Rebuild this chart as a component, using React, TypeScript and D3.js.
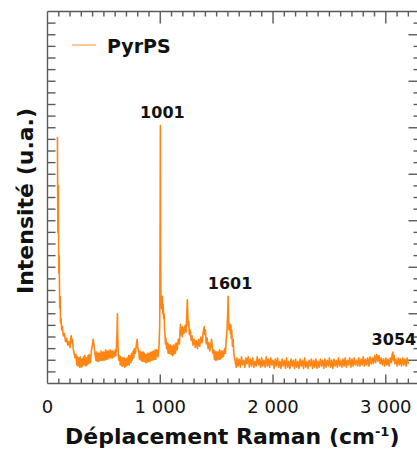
import React, { useEffect, useRef } from 'react';
import * as d3 from 'd3';

// Raman spectrum of PyrPS: [shift cm-1, intensity a.u.]
const lowRegion: [number, number][] = [
  [88, 21.2], [92, 13.0], [96, 17.0], [100, 9.5], [104, 11.0], [108, 6.5], [112, 7.5], [116, 5.2],
  [120, 5.6], [126, 4.6], [132, 4.9], [140, 4.1], [150, 4.3], [160, 3.6], [170, 3.9], [180, 3.3],
  [190, 3.6], [200, 3.1], [205, 3.9], [210, 4.1], [215, 3.5], [220, 3.8], [228, 3.0], [236, 2.6],
  [244, 2.2], [252, 2.5], [260, 1.6], [265, 2.3], [270, 1.5], [280, 2.2], [285, 1.4], [290, 2.3],
  [300, 1.4], [305, 2.1], [310, 1.5], [320, 2.3], [325, 1.6], [330, 2.4], [340, 1.5], [345, 2.2],
  [350, 1.6], [360, 2.4], [365, 1.7], [370, 2.5], [380, 1.8], [390, 2.9], [400, 3.4], [405, 3.8],
  [410, 3.5], [415, 3.0], [420, 2.6], [430, 2.0], [435, 2.7], [440, 1.9], [450, 2.6], [455, 1.9],
  [460, 2.6], [470, 2.0], [475, 2.8], [480, 2.0], [490, 2.7], [495, 2.0], [500, 2.7], [510, 2.0],
  [515, 2.9], [520, 2.1], [530, 2.8], [535, 2.1], [540, 2.8], [550, 2.2], [555, 2.9], [560, 2.2],
  [570, 2.8], [575, 2.2], [580, 2.8], [590, 2.3], [600, 2.9], [605, 2.4],
  [612, 3.2], [617, 4.5], [620, 6.0], [623, 4.0], [627, 2.8], [632, 2.0],
  [640, 2.4], [645, 1.6], [650, 2.3], [660, 1.5], [665, 2.2], [670, 1.5], [680, 2.2], [685, 1.4],
  [690, 2.1], [700, 1.5], [705, 2.2], [710, 1.6], [720, 2.4], [725, 1.6], [730, 2.4], [740, 1.8],
  [745, 2.6], [750, 2.0], [760, 2.8], [765, 2.2], [770, 3.0], [780, 2.6], [790, 3.5],
  [795, 3.8], [800, 3.1], [810, 2.7], [815, 2.1], [820, 2.8], [830, 2.0], [835, 2.7], [840, 1.9],
  [850, 2.7], [855, 1.9], [860, 2.6], [870, 1.8], [875, 2.5], [880, 1.8], [890, 2.6], [895, 1.9],
  [900, 2.6], [910, 1.9], [915, 2.7], [920, 2.0], [930, 2.7], [935, 2.0], [940, 2.8], [950, 2.1],
  [955, 2.9], [960, 2.1], [970, 2.9], [980, 2.3], [990, 3.4], [995, 5.0], [999, 14.0], [1001, 22.2],
  [1003, 12.0],
];

const fingerprint: [number, number][] = [
  [1006, 6.5], [1010, 7.2], [1014, 6.4], [1018, 7.5], [1022, 6.0], [1026, 6.8], [1030, 5.6], [1034, 6.0],
  [1038, 4.6], [1042, 4.2], [1046, 3.4], [1050, 3.9], [1056, 3.0], [1062, 3.5], [1070, 2.6], [1075, 3.4],
  [1080, 2.6], [1090, 3.3], [1095, 2.5], [1100, 3.2], [1110, 2.4], [1115, 3.3], [1120, 2.5], [1130, 3.3],
  [1135, 2.6], [1140, 3.5], [1150, 2.9], [1160, 3.8], [1170, 3.4], [1175, 4.6], [1180, 5.1], [1185, 4.2],
  [1190, 4.8], [1195, 4.0], [1200, 4.9], [1210, 4.3], [1220, 5.0], [1228, 4.4], [1234, 5.6], [1240, 7.2],
  [1244, 6.0], [1248, 5.0], [1252, 5.3], [1258, 4.2], [1266, 4.6], [1274, 3.7], [1282, 4.1], [1290, 3.3],
  [1300, 3.8], [1310, 3.1], [1320, 3.7], [1330, 3.0], [1340, 3.8], [1350, 3.2], [1360, 4.0], [1370, 3.5],
  [1380, 4.4], [1390, 4.9], [1395, 4.2], [1400, 4.6], [1408, 3.4], [1416, 3.9], [1424, 3.0], [1432, 3.5],
  [1440, 2.8], [1448, 3.3], [1455, 3.8], [1460, 3.3], [1465, 2.6], [1472, 2.9], [1480, 2.1], [1485, 2.8],
  [1490, 2.0], [1500, 2.7], [1505, 2.0], [1510, 2.7], [1520, 2.1], [1525, 2.9], [1530, 2.1], [1540, 2.8],
  [1545, 2.2], [1550, 2.8], [1560, 2.3], [1570, 3.0], [1578, 2.6], [1585, 3.8], [1592, 4.6], [1598, 6.0],
  [1602, 7.5], [1606, 5.6], [1610, 4.6], [1614, 5.0], [1618, 5.1], [1622, 4.3], [1626, 5.0], [1630, 3.9],
  [1634, 4.6], [1640, 3.2], [1646, 3.8], [1652, 2.6], [1658, 2.2], [1666, 1.8], [1674, 1.4],
];

const highRegion: [number, number][] = [
  [1680, 2.2], [1690, 1.5], [1700, 2.1], [1710, 1.4], [1720, 2.3], [1730, 1.6], [1740, 2.0], [1750, 1.4],
  [1760, 2.2], [1770, 1.7], [1780, 2.3], [1790, 1.4], [1800, 2.1], [1810, 1.5], [1820, 2.2], [1830, 1.4],
  [1840, 1.9], [1850, 1.5], [1860, 2.3], [1870, 1.6], [1880, 2.1], [1890, 1.4], [1900, 2.2], [1910, 1.5],
  [1920, 2.0], [1930, 1.4], [1940, 2.3], [1950, 1.5], [1960, 2.1], [1970, 1.4], [1980, 2.2], [1990, 1.6],
  [2000, 2.0], [2010, 1.3], [2020, 2.1], [2030, 1.5], [2040, 2.2], [2050, 1.4], [2060, 1.9], [2070, 1.3],
  [2080, 2.1], [2090, 1.5], [2100, 2.0], [2110, 1.3], [2120, 2.2], [2130, 1.4], [2140, 1.9], [2150, 1.3],
  [2160, 2.1], [2170, 1.5], [2180, 2.0], [2190, 1.3], [2200, 2.1], [2210, 1.4], [2220, 1.9], [2230, 1.3],
  [2240, 2.1], [2250, 1.5], [2260, 2.0], [2270, 1.3], [2280, 2.2], [2290, 1.4], [2300, 1.9], [2310, 1.3],
  [2320, 2.0], [2330, 1.5], [2340, 2.1], [2350, 1.3], [2360, 2.0], [2370, 1.4], [2380, 2.1], [2390, 1.3],
  [2400, 1.9], [2410, 1.4], [2420, 2.1], [2430, 1.5], [2440, 2.0], [2450, 1.3], [2460, 2.1], [2470, 1.4],
  [2480, 2.0], [2490, 1.5], [2500, 2.2], [2510, 1.4], [2520, 2.0], [2530, 1.3], [2540, 2.1], [2550, 1.5],
  [2560, 2.0], [2570, 1.4], [2580, 2.2], [2590, 1.5], [2600, 2.0], [2610, 1.4], [2620, 2.1], [2630, 1.5],
  [2640, 2.2], [2650, 1.4], [2660, 2.0], [2670, 1.6], [2680, 2.2], [2690, 1.4], [2700, 2.1], [2710, 1.5],
  [2720, 2.2], [2730, 1.6], [2740, 2.0], [2750, 1.5], [2760, 2.2], [2770, 1.5], [2780, 2.1], [2790, 1.6],
  [2800, 2.3], [2810, 1.5], [2820, 2.1], [2830, 1.6], [2840, 2.2], [2850, 1.5], [2860, 2.3], [2870, 1.7],
  [2880, 2.2], [2890, 1.7], [2900, 2.4], [2910, 1.8], [2920, 2.5], [2930, 1.9], [2940, 2.4], [2950, 1.7],
  [2960, 2.2], [2970, 1.6], [2980, 2.1], [2990, 1.5], [3000, 2.2], [3010, 1.6], [3020, 2.1], [3030, 1.5],
  [3040, 2.2], [3050, 1.8], [3056, 2.5], [3062, 2.7], [3068, 2.0], [3074, 2.4], [3080, 1.7], [3090, 2.1],
  [3100, 1.5], [3110, 2.2], [3120, 1.6], [3130, 2.1], [3140, 1.5], [3150, 2.2], [3160, 1.6], [3170, 2.1],
  [3180, 1.5], [3190, 2.2], [3200, 1.7],
];

const peakShifts = [1001, 1601, 3054];
const peakLabels = ['1001', '1601', '3054'];
const xTickValues = [0, 1000, 2000, 3000];
const seriesName = 'PyrPS';

export default function App() {
  const ref = useRef<SVGSVGElement>(null);

  useEffect(() => {
    if (!ref.current) return;
    const svg = d3.select(ref.current);
    svg.selectAll('*').remove();

    const width = 417;
    const height = 450;
    const left = 47.5, right = 418.5, top = 11.5, bottom = 383.5;
    const orange = '#ff8514';
    const axisColor = '#5a5a5a';
    const font = '"DejaVu Sans", sans-serif';

    const data = [...lowRegion, ...fingerprint, ...highRegion];

    const x = d3.scaleLinear().domain([0, 3290]).range([left, right]);
    const y = d3.scaleLinear().domain([0, 32]).range([bottom, top]);

    svg.append('rect').attr('width', width).attr('height', height).attr('fill', '#fff');

    // spectrum
    const line = d3.line<[number, number]>()
      .x(d => x(d[0]))
      .y(d => y(d[1]));

    svg.append('path')
      .datum(data)
      .attr('fill', 'none')
      .attr('stroke', orange)
      .attr('stroke-width', 1.6)
      .attr('stroke-linejoin', 'round')
      .attr('d', line);

    // frame
    const frame = svg.append('g').attr('stroke', axisColor).attr('stroke-width', 1.4);
    frame.append('line').attr('x1', left).attr('x2', right).attr('y1', top).attr('y2', top);
    frame.append('line').attr('x1', left).attr('x2', right).attr('y1', bottom).attr('y2', bottom);
    frame.append('line').attr('x1', left).attr('x2', left).attr('y1', top).attr('y2', bottom);
    frame.append('line').attr('x1', right).attr('x2', right).attr('y1', top).attr('y2', bottom);

    // x ticks every 100, major every 1000 (top and bottom, inward)
    const xTicks = d3.range(100, 3290, 100);
    xTicks.forEach(v => {
      const major = v % 1000 === 0;
      frame.append('line')
        .attr('x1', x(v)).attr('x2', x(v))
        .attr('y1', bottom).attr('y2', bottom - (major ? 9 : 5));
      frame.append('line')
        .attr('x1', x(v)).attr('x2', x(v))
        .attr('y1', top).attr('y2', top + (major ? 12 : 5));
    });

    // y ticks every unit, major every 4 on the right
    const yTicks = d3.range(1, 32, 1);
    yTicks.forEach(v => {
      const major = v % 4 === 2;
      frame.append('line')
        .attr('x1', left).attr('x2', left + 8)
        .attr('y1', y(v)).attr('y2', y(v));
      frame.append('line')
        .attr('x1', right).attr('x2', right - (major ? 10 : 5))
        .attr('y1', y(v)).attr('y2', y(v));
    });

    // x tick labels, French grouping "1 000"
    const fmt = d3.formatLocale({ decimal: ',', thousands: ' ', grouping: [3], currency: ['', ''] }).format(',');
    svg.append('g')
      .selectAll('text')
      .data(xTickValues)
      .enter()
      .append('text')
      .attr('x', d => x(d))
      .attr('y', 413)
      .attr('text-anchor', 'middle')
      .attr('font-family', font)
      .attr('font-size', 18)
      .attr('fill', '#111')
      .text(d => fmt(d));

    // axis titles
    const xt = svg.append('text')
      .attr('x', (left + 417) / 2)
      .attr('y', 444)
      .attr('text-anchor', 'middle')
      .attr('font-family', font)
      .attr('font-size', 22)
      .attr('font-weight', 'bold')
      .attr('fill', '#111');
    xt.append('tspan').text('Déplacement Raman (cm');
    xt.append('tspan').attr('font-size', 13).attr('dy', -8).text('-1');
    xt.append('tspan').attr('dy', 8).text(')');

    svg.append('text')
      .attr('transform', `translate(33,201) rotate(-90)`)
      .attr('text-anchor', 'middle')
      .attr('font-family', font)
      .attr('font-size', 22)
      .attr('font-weight', 'bold')
      .attr('fill', '#111')
      .text('Intensité (u.a.)');

    // peak labels
    svg.append('g')
      .selectAll('text')
      .data(peakShifts)
      .enter()
      .append('text')
      .attr('x', d => x(d) + 2)
      .attr('y', d => {
        const near = data.filter(p => Math.abs(p[0] - d) <= 12);
        return y(d3.max(near, p => p[1]) ?? 0) - 7;
      })
      .attr('text-anchor', 'middle')
      .attr('font-family', font)
      .attr('font-size', 16)
      .attr('font-weight', 'bold')
      .attr('fill', '#111')
      .text((d, i) => peakLabels[i]);

    // legend
    svg.append('line')
      .attr('x1', 72).attr('x2', 96)
      .attr('y1', 45).attr('y2', 45)
      .attr('stroke', orange)
      .attr('stroke-opacity', 0.7)
      .attr('stroke-width', 1.3);
    svg.append('text')
      .attr('x', 107)
      .attr('y', 53)
      .attr('font-family', font)
      .attr('font-size', 19)
      .attr('font-weight', 'bold')
      .attr('fill', '#111')
      .text(seriesName);
  }, []);

  return (
    <svg
      ref={ref}
      width={417}
      height={450}
      style={{ position: 'absolute', left: 0, top: 0, display: 'block' }}
    />
  );
}
